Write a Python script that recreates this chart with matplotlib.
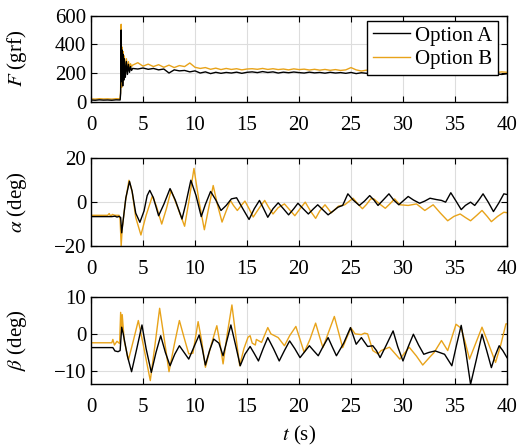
import numpy as np
import matplotlib
matplotlib.use("Agg")
import matplotlib.pyplot as plt

plt.rcParams['font.family'] = ['Liberation Serif', 'DejaVu Serif']
plt.rcParams['mathtext.fontset'] = 'stix'
plt.rcParams['font.size'] = 15
plt.rcParams['lines.solid_joinstyle'] = 'round'

C_A = 'black'
C_B = '#E8A31A'
labels = ['Option A', 'Option B']

# grip force F (grf)
F_t_early = [0, 0.4, 0.8, 1.2, 1.6, 2.0, 2.4, 2.8, 2.85, 2.9, 2.95, 3.0, 3.05, 3.1,
             3.15, 3.2, 3.3, 3.4, 3.5, 3.6, 3.7, 3.8, 3.9]
F_a_early = [12, 10, 13, 11, 12, 10, 13, 12, 60, 500, 140, 360, 110, 330,
             150, 300, 170, 280, 190, 260, 205, 245, 218]
F_b_early = [20, 18, 21, 19, 20, 18, 21, 20, 80, 540, 100, 380, 130, 350,
             160, 320, 190, 300, 210, 280, 230, 265, 245]
F_a_late = [232, 228, 235, 226, 232, 222, 228, 200, 222, 215, 218, 208, 215, 200,
            208, 196, 205, 198, 204, 200, 206, 198, 205, 208, 203, 210, 204, 208,
            200, 206, 202, 207, 203, 200, 206, 201, 204, 199, 205, 200, 203, 198,
            204, 196, 202, 198, 200, 195, 199, 193, 198, 194, 196, 190, 197, 192,
            196, 190, 195, 191, 196, 188, 194, 190, 196, 185, 193, 190, 196, 189,
            194, 190, 195]
F_b_late = [255, 272, 248, 262, 245, 258, 240, 255, 238, 252, 245, 270, 240, 232,
            238, 226, 234, 224, 232, 225, 230, 222, 228, 230, 226, 232, 225, 230,
            224, 228, 222, 229, 224, 227, 221, 226, 220, 225, 219, 224, 218, 222,
            238, 222, 214, 220, 212, 218, 210, 216, 211, 215, 209, 214, 208, 213,
            207, 212, 206, 211, 205, 210, 207, 209, 204, 208, 203, 209, 204, 207,
            203, 208, 205]
F_t_late = np.linspace(4, 40, len(F_a_late))

# pitch alpha (deg)
al_a_t = [0, 2.0, 2.3, 2.5, 2.7, 2.85, 2.95, 3.1, 3.35, 3.7, 3.95, 4.3, 4.7, 5.1, 5.4,
          5.65, 6.0, 6.5, 7.0, 7.6, 8.1, 8.75, 9.1, 9.6, 10.1, 10.6, 11.0, 11.5, 12.0,
          12.5, 13.0, 13.5, 14.0, 14.6, 15.2, 15.7, 16.2, 16.6, 17.0, 17.5, 18.0,
          18.5, 19.0, 19.5, 19.9, 20.4, 20.9, 21.4, 21.8, 22.3, 22.8, 23.3, 23.75,
          24.2, 24.7, 25.2, 25.8, 26.3, 26.8, 27.2, 27.6, 28.1, 28.65, 29.1, 29.6,
          30.0, 30.5, 31.0, 31.6, 32.1, 32.6, 33.2, 33.7, 34.1, 34.6, 35.1, 35.6,
          36.0, 36.5, 36.9, 37.3, 37.7, 38.2, 38.7, 39.2, 39.7, 40.0]
al_a = [-6.6, -6.6, -6.4, -6.8, -6.5, -7, -14, -8, 2, 9.5, 5, -5, -9.2, -4, 3,
        5.4, 2, -6.2, -1, 6.2, 1, -7.7, -1, 10, 3, -6.6, -1, 4.9, 1,
        -3.8, -1.5, 1.5, 2, -3, -7.9, -3, 0.8, -3, -6.9, -3, -0.3,
        -3, -5.8, -3, -0.5, -3, -5.4, -3, -1.2, -3.5, -5.8, -4, -2.3,
        -1.5, 3.8, 1, -1.5, 0.5, 3, 1, -1.5, 1, 3.8, 1, -1.2,
        0.5, 2.6, 1, -0.5, 0.5, 1.8, 1.2, 0.8, 0, 4.3, 0.5, -3.4,
        -1.5, 0, -1.5, 1, 3.8, 0, -4.3, -0.5, 3.8, 3.5]
al_b_t = [0, 1.6, 1.75, 1.9, 2.05, 2.3, 2.7, 2.8, 2.9, 3.0, 3.3, 3.65, 3.95, 4.3, 4.8,
          5.3, 5.9, 6.3, 6.8, 7.25, 7.7, 8.3, 9.0, 9.4, 9.9, 10.4, 10.9, 11.3, 11.75,
          12.15, 12.6, 13.0, 13.4, 13.7, 14.07, 14.45, 14.8, 15.2, 15.6, 16.2, 16.7,
          17.1, 17.5, 18.0, 18.6, 19.1, 19.6, 20.1, 20.6, 21.1, 21.6, 22.0, 22.5,
          22.8, 23.1, 23.8, 24.4, 25.2, 25.7, 26.1, 26.5, 26.9, 27.2, 27.8, 28.3,
          28.8, 29.2, 29.7, 30.5, 31.3, 32.1, 32.9, 33.6, 34.3, 34.9, 35.5, 36.0,
          36.5, 37.1, 37.6, 38.1, 38.5, 39.1, 39.7, 40.0]
al_b = [-6.0, -6.0, -5.2, -6.5, -5.6, -6.0, -6.0, -8, -20, -12, 0, 10, 5, -7, -15,
        -6, 2.8, -2, -10, -3, 5.4, -2, -11, 0, 15.4, 0, -12.6, -3, 7.6,
        -1, -9.1, -4, 0.8, -1.5, -3.8, -1.5, 0.5, -3, -6.8, -2.5, 0.8,
        -2.5, -5.4, -2.5, -0.8, -3.5, -6.2, -3, 0, -4, -7.4, -4, -1.2,
        -3, -4.9, -1.8, -1.2, 1.8, -1, -3, -1, 1.5, 1.5, -1, -2.8,
        -0.5, 1.5, -1.2, -1.5, -0.8, -3.8, -1.2, -5, -8.5, -6.5, -5.4, -7,
        -8.5, -6, -3.8, -6.5, -8.9, -6.5, -4.6, -4.8]

# roll beta (deg)
be_a_t = [0, 2.1, 2.3, 2.6, 2.8, 2.95, 3.1, 3.5, 3.9, 4.4, 4.9, 5.3, 5.8, 6.25, 6.7,
          7.15, 7.6, 8.05, 8.5, 8.95, 9.4, 9.9, 10.4, 10.7, 11.0, 11.4, 11.8, 12.3,
          12.7, 13.05, 13.45, 13.9, 14.35, 14.8, 15.3, 15.7, 16.1, 16.55, 17.0,
          17.55, 18.1, 18.6, 19.1, 19.6, 20.1, 20.55, 21.0, 21.4, 21.85, 22.3, 22.8,
          23.2, 23.6, 24.3, 24.95, 25.5, 26.0, 26.6, 27.1, 27.45, 27.8, 28.4, 29.05,
          29.5, 30.0, 30.5, 31.0, 31.5, 32.0, 32.5, 33.1, 33.5, 34.0, 34.7, 35.15,
          35.6, 36.05, 36.5, 37.05, 37.6, 38.05, 38.5, 38.85, 39.25, 39.6, 40.0]
be_a = [-3.7, -3.7, -4.6, -4.8, -4.5, 1.8, 0, -6, -10.2, -4, 2.4, -4, -10.4, -5, -0.5,
        -5, -8.6, -5.5, -3.2, -5, -6.8, -3.5, -0.3, -4, -8.4, -4.5, -1.4, -2.5,
        -5.9, -2, 2.4, -3, -8.6, -5.5, -3.4, -5.3, -7.3, -4, -1,
        -4, -7.3, -4.5, -1.9, -4, -6.4, -4.8, -3.2, -4.5, -5.9, -3.5, -1,
        -3.5, -5.9, -2.5, 1.7, -2.8, -1, -3.4, -3.2, -4.5, -6.4, -3, 0.8,
        -3.5, -7.3, -3.5, -0.1, -3, -5.5, -5, -4.6, -5, -5.5, -8.6, -3,
        2.3, -5, -13.6, -7, -0.1, -4.5, -9.1, -6, -3.2, -4.5, -6.4]
be_b_t = [0, 2.0, 2.1, 2.25, 2.5, 2.75, 2.85, 2.95, 3.0, 3.2, 3.6, 4.1, 4.55, 5.1, 5.7,
          6.15, 6.6, 7.05, 7.5, 8.0, 8.5, 8.95, 9.4, 9.8, 10.3, 10.65, 11.0, 11.55,
          12.1, 12.4, 12.7, 13.1, 13.55, 13.9, 14.3, 14.7, 15.1, 15.3, 15.5, 15.8,
          15.9, 16.4, 17.0, 17.3, 18.0, 18.6, 19.1, 19.7, 20.1, 20.5, 21.05, 21.6,
          21.95, 22.3, 22.85, 23.4, 23.8, 24.2, 24.6, 25.0, 25.4, 26.0, 26.3, 26.6,
          27.1, 27.6, 27.9, 28.7, 29.7, 30.6, 31.3, 31.9, 32.5, 33.0, 33.7, 34.3,
          35.1, 35.6, 36.0, 36.4, 37.0, 37.6, 38.2, 38.9, 39.4, 39.9, 40.0]
be_b = [-2.4, -2.4, -1.5, -3.0, -2.0, -2.6, 5.8, 1, 5.2, -2, -7, -1.5, 3.6, -4, -12.6,
        -3, 6.9, -1.5, -10.2, -3, 3.6, -1, -5.4, -5.2, 3.3, -2, -9, -3,
        2.2, -2.5, -8.1, 0, 7.8, 0, -8.6, -4, -0.9, -0.5, -2.5, -3,
        -1.5, -2.3, 1.7, 0, -1, -3.2, -0.5, 2, -1.5, -5, -1.5, 2.9,
        -0.5, -3.7, 0.5, 4.7, 0.5, -3.7, -1, 1.6, 0, -0.2, 0.2, 0,
        -4.5, -5.4, -4.5, -3.6, -6.8, -3.6, -6, -8.4, -6.5, -5, -1.8, -4.5,
        2.6, 1.5, -2.5, -6.8, -2.5, 1.8, -2.5, -7.7, -3, 2.7, 2.7]

fig = plt.figure(figsize=(5.18, 4.48), dpi=100)
ax1 = fig.add_axes([0.1757, 0.773, 0.803, 0.192])
ax2 = fig.add_axes([0.1757, 0.451, 0.803, 0.1955])
ax3 = fig.add_axes([0.1757, 0.143, 0.803, 0.1945])

ax1.plot(np.r_[F_t_early, F_t_late], np.r_[F_a_early, F_a_late], color=C_A, lw=1.0, label=labels[0])
ax1.plot(np.r_[F_t_early, F_t_late], np.r_[F_b_early, F_b_late], color=C_B, lw=1.0, label=labels[1], zorder=1.5)
ax1.set_ylim(0, 600)
ax1.set_yticks([0, 200, 400, 600])
ax1.set_ylabel('$F$ (grf)')
leg = ax1.legend(loc='upper right', bbox_to_anchor=(0.978, 0.94), borderaxespad=0,
                 fancybox=False, framealpha=1, edgecolor='black', handlelength=1.8,
                 borderpad=0.25, labelspacing=0.2, handletextpad=0.25, fontsize=15)
leg.get_frame().set_linewidth(1.0)

ax2.plot(al_b_t, al_b, color=C_B, lw=1.0)
ax2.plot(al_a_t, al_a, color=C_A, lw=1.0)
ax2.set_ylim(-20, 20)
ax2.set_yticks([-20, 0, 20])
ax2.set_ylabel(r'$\alpha$ (deg)')

ax3.plot(be_b_t, be_b, color=C_B, lw=1.0)
ax3.plot(be_a_t, be_a, color=C_A, lw=1.0)
ax3.set_ylim(-13.5, 10)
ax3.set_yticks([-10, 0, 10])
ax3.set_ylabel(r'$\beta$ (deg)')
ax3.set_xlabel('$t$ (s)')
ax3.xaxis.set_label_coords(0.5, -0.455)

for ax in (ax1, ax2, ax3):
    ax.set_xlim(0, 40)
    ax.set_xticks(range(0, 41, 5))
    ax.grid(True, color='#dddddd', lw=0.8)
    ax.set_axisbelow(True)
    ax.tick_params(direction='in', top=True, right=True, length=4, width=0.8,
                   labelsize=15)
    ax.tick_params(axis='x', pad=10)
    ax.yaxis.set_label_coords(-0.15, 0.5)
    for s in ax.spines.values():
        s.set_linewidth(1.0)

fig.savefig('out.png', dpi=100)
